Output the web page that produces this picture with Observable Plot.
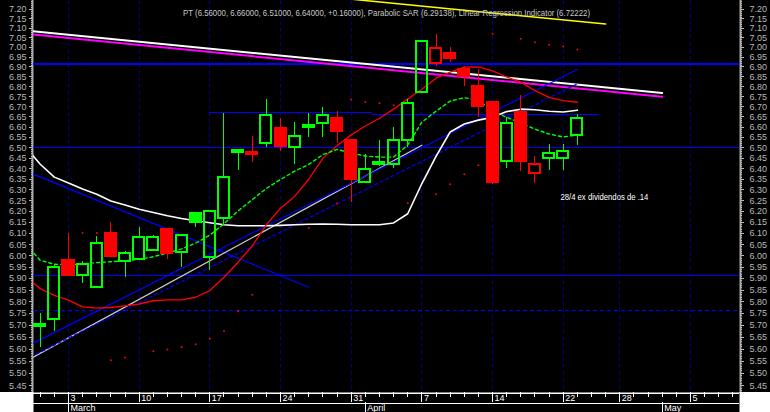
<!DOCTYPE html>
<html>
<head>
<meta charset="utf-8">
<title>PT</title>
<script src="https://cdn.jsdelivr.net/npm/d3@7"></script>
<script src="https://cdn.jsdelivr.net/npm/@observablehq/plot@0.6"></script>
<style>
  html, body { margin: 0; padding: 0; background: #fff; }
  #chart { width: 770px; height: 412px; overflow: hidden; }
  #chart svg { display: block; }
</style>
</head>
<body>
<div id="chart"></div>
<script>
// Trading sessions: 0 = Monday 3 March, one slot per session.
const session = [-2, -1, 0, 1, 2, 3, 4, 5, 6, 7, 8, 9, 10, 11, 12, 13, 14, 15, 16, 17, 18,
  19, 20, 21, 22, 23, 24, 25, 26, 27, 28, 29, 30, 31, 32, 33, 34, 35, 36];
const open = [5.703, 5.723, 5.98, 5.913, 5.861, 6.098, 5.973, 5.982, 6.023, 6.116, 6.013, 6.19, 5.991,
  6.17, 6.475, 6.467, 6.52, 6.595, 6.50, 6.607, 6.617, 6.64, 6.535, 6.337, 6.428, 6.42, 6.536,
  6.77, 6.92, 6.968, 6.886, 6.80, 6.72, 6.436, 6.67, 6.376, 6.45, 6.45, 6.56];
const high = [5.75, 5.96, 6.10, 5.976, 6.087, 6.15, 6.02, 6.125, 6.09, 6.116, 6.093, 6.19, 6.198,
  6.665, 6.49, 6.556, 6.735, 6.64, 6.62, 6.665, 6.695, 6.678, 6.535, 6.468, 6.537, 6.60, 6.736,
  7.03, 7.07, 6.999, 6.904, 6.887, 6.72, 6.645, 6.757, 6.46, 6.516, 6.516, 6.66];
const low = [5.605, 5.675, 5.913, 5.88, 5.861, 5.998, 5.906, 5.982, 6.023, 5.982, 5.947, 6.125, 5.934,
  6.135, 6.39, 6.428, 6.50, 6.48, 6.42, 6.548, 6.548, 6.521, 6.24, 6.337, 6.41, 6.40, 6.50,
  6.77, 6.90, 6.921, 6.803, 6.645, 6.326, 6.40, 6.388, 6.33, 6.392, 6.392, 6.51];
const close = [5.695, 5.95, 5.913, 5.96, 6.053, 5.998, 6.011, 6.08, 6.084, 6.011, 6.093, 6.152, 6.198,
  6.36, 6.485, 6.478, 6.655, 6.505, 6.555, 6.598, 6.655, 6.577, 6.35, 6.397, 6.42, 6.535, 6.715,
  7.03, 6.995, 6.941, 6.853, 6.70, 6.335, 6.618, 6.433, 6.42, 6.47, 6.48, 6.64];
const closeBefore = 5.66; // close of the session preceding the first bar

// Indicator readings, sessions -3 .. 36
const indSession = [-3, -2, -1, 0, 1, 2, 3, 4, 5, 6, 7, 8, 9, 10, 11, 12, 13, 14, 15, 16, 17, 18,
  19, 20, 21, 22, 23, 24, 25, 26, 27, 28, 29, 30, 31, 32, 33, 34, 35, 36];
const avgSlow = [6.50, 6.421, 6.36, 6.332, 6.304, 6.28, 6.249, 6.23, 6.211, 6.196, 6.181, 6.168, 6.158,
  6.149, 6.14, 6.135, 6.135, 6.135, 6.137, 6.14, 6.142, 6.143, 6.142, 6.14, 6.14, 6.14, 6.148,
  6.19, 6.33, 6.458, 6.576, 6.615, 6.634, 6.648, 6.676, 6.688, 6.685, 6.678, 6.674, 6.683];
const lri = [5.91, 5.856, 5.827, 5.807, 5.778, 5.772, 5.775, 5.782, 5.79, 5.804, 5.808, 5.808, 5.819,
  5.848, 5.906, 5.972, 6.044, 6.14, 6.215, 6.27, 6.35, 6.45, 6.51, 6.562, 6.605, 6.643, 6.688,
  6.739, 6.787, 6.843, 6.874, 6.899, 6.901, 6.88, 6.849, 6.823, 6.78, 6.747, 6.73, 6.72222];
const avgFast = [6.05, 5.98, 5.963, 5.96, 5.965, 5.97, 5.974, 5.978, 5.985, 5.996, 6.013, 6.031, 6.057,
  6.093, 6.144, 6.203, 6.255, 6.307, 6.349, 6.388, 6.42, 6.467, 6.492, 6.474, 6.46, 6.455, 6.455,
  6.513, 6.624, 6.678, 6.728, 6.745, 6.733, 6.678, 6.648, 6.619, 6.59, 6.566, 6.552, 6.562];

// Parabolic SAR dots
const sarSession = [1, 2, 3, 4, 6, 7, 8, 9, 10, 11, 12, 13, 17, 19, 20, 21, 22, 23, 24, 26, 27, 28, 29,
  30, 32, 33, 34, 35, 36];
const sarValue = [6.102, 6.102, 5.554, 5.565, 5.591, 5.598, 5.609, 5.62, 5.643, 5.675, 5.76, 5.83,
  6.125, 6.237, 6.736, 6.724, 6.717, 6.707, 6.239, 6.28, 6.327, 6.374, 6.416,
  7.072, 7.046, 7.028, 7.015, 7.006, 6.99];
const sarReading = 6.29138;

// Drawn trend lines: [session, price] end points
const channelUpper = [[-3, 7.088], [42, 6.769]];
const channelLower = [[-3, 7.071], [42, 6.750]];
const channelTop = [[18, 7.27], [38, 7.123]];
const downTrend = [[-3, 6.388], [17, 5.862]];
const upTrend = [[-3, 5.61], [36, 6.887]];
const upTrendDashed = [[-3, 5.558], [36, 6.815]];
const upTrendGrey = [[-3, 5.551], [25, 6.512]];

// Horizontal levels
const levelStrong = [6.917];
const levels = [6.50, 5.912];
const levelDashed = [5.762];
const resistance = [
  {from: 10, to: 21.5, price: 6.670},
  {from: 21.5, to: 37.6, price: 6.662}
];

const noteText = "28/4 ex dividendos de .14";
const notePos = [{s: 34.8, v: 6.268}];

// Date axis
const dayTicks = [0, 5, 10, 15, 20, 25, 30, 35, 39, 44];
const dayLabels = ["3", "10", "17", "24", "31", "7", "14", "22", "28", "5"];
const monthTicks = [0, 21, 42];
const monthLabels = ["March", "April", "May"];

const xDomain = [-2.476, 47.47];
const yDomain = [5.423, 7.248];
const font = "'Liberation Sans', Arial, sans-serif";

const bars = session.map((s, k) => {
  const prev = k ? close[k - 1] : closeBefore;
  const top = Math.max(open[k], close[k]);
  const bot = Math.min(open[k], close[k]);
  return {
    s, o: open[k], h: high[k], l: low[k], c: close[k], top, bot,
    hue: close[k] >= prev ? "#00ff00" : "#ff0000",
    solid: close[k] < open[k]
  };
});

const last = bars[bars.length - 1];
const change = last.c - bars[bars.length - 2].c;
const f5 = v => v.toFixed(5);
const titleText = `PT (${f5(last.o)}, ${f5(last.h)}, ${f5(last.l)}, ${f5(last.c)}, ${change >= 0 ? "+" : ""}${f5(change)}), ` +
  `Parabolic SAR (${f5(sarReading)}), Linear Regression Indicator (${f5(lri[lri.length - 1])})`;

const majorTicks = d3.range(545, 725, 5).map(k => k / 100);
const minorTicks = d3.range(543, 725).filter(k => k % 5 !== 0).map(k => k / 100);
const series = (vals) => indSession.map((s, k) => ({s, v: vals[k]}));
const seg = (pts, opts) => Plot.line(pts, {x: d => d[0], y: d => d[1], clip: true, ...opts});

const main = Plot.plot({
  width: 770,
  height: 392,
  marginLeft: 33,
  marginRight: 31,
  marginTop: 0,
  marginBottom: 0,
  style: {background: "#000", color: "#b8b8b8", fontFamily: font},
  x: {domain: xDomain, axis: null},
  y: {type: "log", domain: yDomain},
  marks: [
    // weekly grid
    Plot.ruleX(dayTicks, {stroke: "#000080", strokeDasharray: "4,3", shapeRendering: "crispEdges"}),
    // price axes
    Plot.ruleX([xDomain[0]], {stroke: "#a8a8a8", strokeWidth: 2, dx: -1}),
    Plot.ruleX([xDomain[1]], {stroke: "#a8a8a8", strokeWidth: 2, dx: 1}),
    Plot.axisY(minorTicks, {anchor: "left", tickSize: 2, text: null, fill: "none", label: null, shapeRendering: "crispEdges"}),
    Plot.axisY(majorTicks, {anchor: "left", tickSize: 4, tickPadding: 3, tickFormat: d => d.toFixed(2), fontSize: 9, label: null, shapeRendering: "crispEdges"}),
    Plot.axisY(minorTicks, {anchor: "right", tickSize: 2, text: null, fill: "none", label: null, shapeRendering: "crispEdges"}),
    Plot.axisY(majorTicks, {anchor: "right", tickSize: 4, tickPadding: 6, tickFormat: d => d.toFixed(2), fontSize: 9, label: null, shapeRendering: "crispEdges"}),
    // horizontal levels
    Plot.ruleY(levelStrong, {stroke: "#0000ff", strokeWidth: 2, shapeRendering: "crispEdges"}),
    Plot.ruleY(levels, {stroke: "#0000ff", shapeRendering: "crispEdges"}),
    Plot.ruleY(levelDashed, {stroke: "#0000ff", strokeDasharray: "4,3", shapeRendering: "crispEdges"}),
    Plot.ruleY(resistance, {y: "price", x1: "from", x2: "to", stroke: "#0000ff", shapeRendering: "crispEdges"}),
    // trend lines
    seg(channelUpper, {stroke: "#ffffff", strokeWidth: 2}),
    seg(channelLower, {stroke: "#ff00ff", strokeWidth: 2}),
    seg(channelTop, {stroke: "#ffff00", strokeWidth: 1.5}),
    seg(downTrend, {stroke: "#0000ff", strokeWidth: 1.2}),
    seg(upTrendGrey, {stroke: "#d0d0d0", strokeWidth: 1.2}),
    seg(upTrend, {stroke: "#0000ff", strokeWidth: 1.2}),
    seg(upTrendDashed, {stroke: "#0000ff", strokeWidth: 1.2, strokeDasharray: "3,3"}),
    // indicators
    Plot.line(series(avgSlow), {x: "s", y: "v", stroke: "#ffffff", strokeWidth: 1.6, clip: true}),
    Plot.line(series(lri), {x: "s", y: "v", stroke: "#ff0000", strokeWidth: 1.3, clip: true}),
    Plot.line(series(avgFast), {x: "s", y: "v", stroke: "#00ff00", strokeWidth: 1.4, strokeDasharray: "3,3", clip: true}),
    Plot.dot(sarSession.map((s, k) => ({s, v: sarValue[k]})), {x: "s", y: "v", r: 1, fill: "#ff0000", stroke: null}),
    // candles: wicks outside the body, hollow bodies for up sessions
    Plot.ruleX(bars, {x: "s", y1: "top", y2: "h", stroke: "hue", shapeRendering: "crispEdges"}),
    Plot.ruleX(bars, {x: "s", y1: "l", y2: "bot", stroke: "hue", shapeRendering: "crispEdges"}),
    Plot.rect(bars, {
      x1: d => d.s - 0.39, x2: d => d.s + 0.39, y1: "o", y2: "c",
      stroke: "hue", strokeWidth: 2, fill: d => d.solid ? d.hue : "none",
      shapeRendering: "crispEdges"
    }),
    // texts
    Plot.text(notePos, {x: "s", y: "v", text: () => noteText, textAnchor: "start", fill: "#ffffff", fontSize: 9}),
    Plot.text([titleText], {text: d => d, frameAnchor: "top", dy: 9, fill: "#c8c8c8", fontSize: 9})
  ]
});

const dates = Plot.plot({
  width: 770,
  height: 20,
  marginLeft: 33,
  marginRight: 31,
  marginTop: 0,
  marginBottom: 0,
  style: {background: "#fff", fontFamily: font},
  x: {domain: xDomain, axis: null},
  y: {domain: [0, 2], range: [0, 20], axis: null},
  marks: [
    Plot.frame({fill: "#000", stroke: null}),
    Plot.ruleY([0, 1], {stroke: "#ffffff", dy: 0.5, shapeRendering: "crispEdges"}),
    Plot.ruleX(d3.range(-2, 48), {x: d => d, y1: () => 0, y2: () => 0.45, stroke: "#ffffff", shapeRendering: "crispEdges"}),
    Plot.ruleX(dayTicks, {x: d => d, y1: () => 0, y2: () => 1, stroke: "#ffffff", shapeRendering: "crispEdges"}),
    Plot.text(dayTicks, {x: d => d, y: () => 0.55, text: (d, i) => dayLabels[i], textAnchor: "start", dx: 2, fill: "#ffffff", fontSize: 9}),
    Plot.ruleX(monthTicks, {x: d => d, y1: () => 1, y2: () => 2, stroke: "#ffffff", shapeRendering: "crispEdges"}),
    Plot.text(monthTicks, {x: d => d, y: () => 1.55, text: (d, i) => monthLabels[i], textAnchor: "start", dx: 2, fill: "#ffffff", fontSize: 9})
  ]
});

const holder = document.getElementById("chart");
holder.append(main, dates);

// condensed lettering for the header and the note
d3.select(main).selectAll("text").each(function () {
  const t = this.textContent;
  if (t === titleText) {
    this.setAttribute("textLength", 407);
    this.setAttribute("lengthAdjust", "spacingAndGlyphs");
  } else if (t === noteText) {
    this.setAttribute("textLength", 88);
    this.setAttribute("lengthAdjust", "spacingAndGlyphs");
  }
});
</script>
</body>
</html>
